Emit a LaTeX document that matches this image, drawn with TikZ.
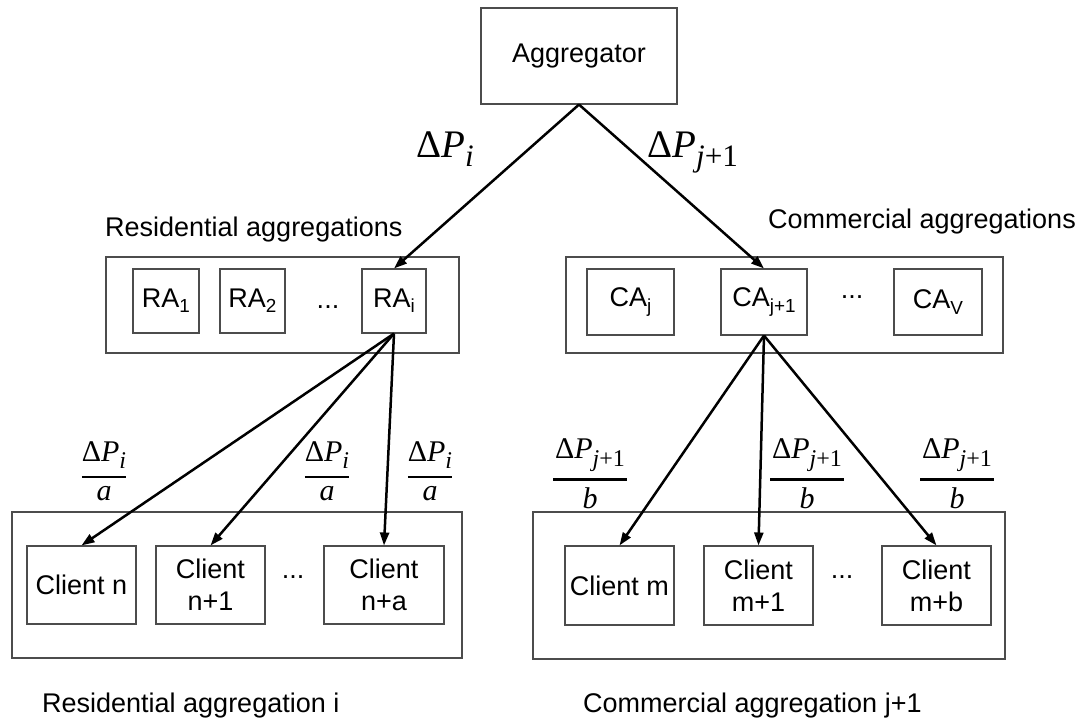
\documentclass[tikz,border=0pt]{standalone}
\usepackage{fontspec}
\setmainfont{Liberation Sans}
\newfontfamily\tms{Liberation Serif}
\usetikzlibrary{arrows.meta}
\makeatletter
\newcommand\mysub[1]{\raisebox{-0.2em}{\fontsize{\strip@pt\dimexpr\f@size pt*70/100\relax}{0}\selectfont #1}}
\newcommand\mathsub[1]{\raisebox{-0.25em}{\fontsize{\strip@pt\dimexpr\f@size pt*80/100\relax}{0}\selectfont #1}}
\makeatother
\newcommand\dPlab[1]{{\tms Δ\textit{P}\mathsub{#1}}}
\newcommand\fracbox[2]{$\displaystyle{\mbox{#1}\above 2.4pt\mbox{#2}}$}
\begin{document}
\begin{tikzpicture}[x=1pt,y=-1pt,
  every node/.style={font=\fontsize{27}{32}\selectfont},
  box/.style={draw=black!70, line width=1.1pt, inner sep=0pt, align=center},
  lbl/.style={inner sep=0pt, anchor=base west},
  dotsn/.style={inner sep=0pt},
  biglbl/.style={inner sep=0pt, anchor=base west, font=\fontsize{39}{44}\selectfont},
  fracn/.style={inner sep=0pt, font=\fontsize{30}{34}\selectfont},
  conn/.style={line width=2.5pt, -{Triangle[length=13pt,width=9pt]}}]
\useasboundingbox (0,0) rectangle (1080,721);

% top
\node[box, minimum width=196pt, minimum height=96pt] (agg) at (579,56) {Aggregator};
\node[biglbl] (lp) at (416,157) {\dPlab{\textit{i}}};
\node[biglbl] (rp) at (647,157) {\dPlab{\textit{j}+1}};

% group labels
\node[lbl] (lres) at (105,236) {Residential aggregations};
\node[lbl] (lcom) at (768,228) {Commercial aggregations};

% residential aggregations
\node[box, minimum width=353pt, minimum height=96pt] (rgrp) at (282.5,305) {};
\node[box, minimum width=66pt, minimum height=64pt] (ra1) at (166,301) {RA\mysub{1}};
\node[box, minimum width=65pt, minimum height=64pt] (ra2) at (252.5,301) {RA\mysub{2}};
\node[dotsn] (rdots) at (328,307) {...};
\node[box, minimum width=64pt, minimum height=64pt] (rai) at (394,301) {RA\mysub{i}};

% commercial aggregations
\node[box, minimum width=437pt, minimum height=96pt] (cgrp) at (784.5,305) {};
\node[box, minimum width=87pt, minimum height=66pt] (caj) at (630.5,302) {CA\mysub{j}};
\node[box, minimum width=86pt, minimum height=66pt] (caj1) at (764,302) {CA\mysub{j+1}};
\node[dotsn] (cdots) at (852,297) {...};
\node[box, minimum width=88pt, minimum height=66pt] (cav) at (938,302) {CA\mysub{V}};

% residential clients
\node[box, minimum width=450pt, minimum height=146pt] (rcl) at (237,585) {};
\node[box, minimum width=109pt, minimum height=78pt] (cn) at (81.5,585) {Client n};
\node[box, minimum width=109pt, minimum height=78pt] (cn1) at (210.5,585) {Client\\n+1};
\node[dotsn] (rcdots) at (293,577) {...};
\node[box, minimum width=120pt, minimum height=78pt] (cna) at (384,585) {Client\\n+a};

% commercial clients
\node[box, minimum width=472pt, minimum height=147pt] (ccl) at (769,585.5) {};
\node[box, minimum width=109pt, minimum height=79pt] (cm) at (619.5,585.5) {Client m};
\node[box, minimum width=109pt, minimum height=79pt] (cm1) at (758.5,585.5) {Client\\m+1};
\node[dotsn] (ccdots) at (842,577) {...};
\node[box, minimum width=109pt, minimum height=79pt] (cmb) at (936.5,585.5) {Client\\m+b};

% fractions
\node[fracn] (f1) at (104,471) {\fracbox{\dPlab{\textit{i}}}{\tms\textit{a}}};
\node[fracn] (f2) at (327,471) {\fracbox{\dPlab{\textit{i}}}{\tms\textit{a}}};
\node[fracn] (f3) at (430,471) {\fracbox{\dPlab{\textit{i}}}{\tms\textit{a}}};
\node[fracn] (f4) at (590,474) {\fracbox{\hspace{2pt}\dPlab{\textit{j}+1}\hspace{2pt}}{\tms\textit{b}}};
\node[fracn] (f5) at (807,474) {\fracbox{\hspace{2pt}\dPlab{\textit{j}+1}\hspace{2pt}}{\tms\textit{b}}};
\node[fracn] (f6) at (957,474) {\fracbox{\hspace{2pt}\dPlab{\textit{j}+1}\hspace{2pt}}{\tms\textit{b}}};

% bottom labels
\node[lbl] (lresi) at (42,712) {Residential aggregation i};
\node[lbl] (lcomj) at (583,712) {Commercial aggregation j+1};

% connectors
\draw[conn] (agg.south) -- (rai.north);
\draw[conn] (agg.south) -- (caj1.north);
\draw[conn] (rai.south) -- (cn.north);
\draw[conn] (rai.south) -- (cn1.north);
\draw[conn] (rai.south) -- (cna.north);
\draw[conn] (caj1.south) -- (cm.north);
\draw[conn] (caj1.south) -- (cm1.north);
\draw[conn] (caj1.south) -- (cmb.north);
\end{tikzpicture}
\end{document}
